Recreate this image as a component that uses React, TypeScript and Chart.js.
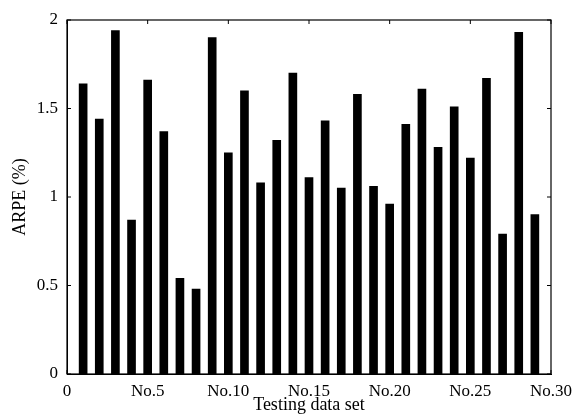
import React, { useEffect, useRef } from "react";
import { Chart, registerables } from "chart.js";

Chart.register(...registerables);

const dataSetNumbers = [1, 2, 3, 4, 5, 6, 7, 8, 9, 10, 11, 12, 13, 14, 15, 16, 17, 18, 19, 20, 21, 22, 23, 24, 25, 26, 27, 28, 29];
const arpeValues = [1.64, 1.44, 1.94, 0.87, 1.66, 1.37, 0.54, 0.48, 1.9, 1.25, 1.6, 1.08, 1.32, 1.7, 1.11, 1.43, 1.05, 1.58, 1.06, 0.96, 1.41, 1.61, 1.28, 1.51, 1.22, 1.67, 0.79, 1.93, 0.9];
const xTickValues = [0, 5, 10, 15, 20, 25, 30];
const xTickLabels = ["0", "No.5", "No.10", "No.15", "No.20", "No.25", "No.30"];
const yTickValues = [0, 0.5, 1, 1.5, 2];
const yTickLabels = ["0", "0.5", "1", "1.5", "2"];

const FONT = "'Liberation Serif', 'Times New Roman', serif";

const framePlugin = {
  id: "frame",
  afterDraw(chart: any) {
    const { ctx, chartArea } = chart;
    const xs = chart.scales.x;
    const ys = chart.scales.y;
    ctx.save();
    ctx.strokeStyle = "#000";
    ctx.lineWidth = 1.2;
    ctx.strokeRect(chartArea.left, chartArea.top, chartArea.right - chartArea.left, chartArea.bottom - chartArea.top);
    ctx.lineWidth = 1;
    const len = 4;
    ctx.beginPath();
    yTickValues.forEach((v) => {
      const py = ys.getPixelForValue(v);
      ctx.moveTo(chartArea.left, py);
      ctx.lineTo(chartArea.left + len, py);
      ctx.moveTo(chartArea.right, py);
      ctx.lineTo(chartArea.right - len, py);
    });
    xTickValues.forEach((v) => {
      const px = xs.getPixelForValue(v);
      ctx.moveTo(px, chartArea.bottom);
      ctx.lineTo(px, chartArea.bottom - len);
      ctx.moveTo(px, chartArea.top);
      ctx.lineTo(px, chartArea.top + len);
    });
    ctx.stroke();
    ctx.restore();
  },
};

export default function App() {
  const ref = useRef<HTMLCanvasElement | null>(null);
  useEffect(() => {
    if (!ref.current) return;
    const chart = new Chart(ref.current, {
      type: "bar",
      data: {
        datasets: [
          {
            label: "ARPE",
            data: dataSetNumbers.map((n, i) => ({ x: n, y: arpeValues[i] })),
            backgroundColor: "#000",
            borderWidth: 0,
            barThickness: 8,
          },
        ],
      },
      options: {
        responsive: false,
        animation: false,
        layout: { padding: { top: 20, right: 21, left: 0, bottom: 0 } },
        plugins: { legend: { display: false }, tooltip: { enabled: false } },
        scales: {
          x: {
            type: "linear",
            min: 0,
            max: 30,
            offset: false,
            afterBuildTicks: (scale: any) => {
              scale.ticks = xTickValues.map((v) => ({ value: v }));
            },
            afterFit: (scale: any) => {
              scale.height = 45;
              scale.paddingLeft = 0;
              scale.paddingRight = 0;
            },
            grid: { display: false, drawTicks: false, offset: false },
            border: { display: true, color: "#000", width: 1 },
            ticks: {
              padding: 7,
              color: "#000",
              font: { family: FONT, size: 17 },
              maxRotation: 0,
              autoSkip: false,
              callback: (v: any) => {
                const idx = xTickValues.indexOf(Number(v));
                return idx >= 0 ? xTickLabels[idx] : "";
              },
            },
            title: {
              display: true,
              text: "Testing data set",
              color: "#000",
              font: { family: FONT, size: 18 },
              padding: { top: 0, bottom: 3 },
            },
          },
          y: {
            type: "linear",
            min: 0,
            max: 2,
            afterBuildTicks: (scale: any) => {
              scale.ticks = yTickValues.map((v) => ({ value: v }));
            },
            afterFit: (scale: any) => {
              scale.width = 67;
              scale.paddingTop = 0;
              scale.paddingBottom = 0;
            },
            grid: { display: false, drawTicks: false },
            border: { display: true, color: "#000", width: 1 },
            ticks: {
              padding: 9,
              color: "#000",
              font: { family: FONT, size: 17 },
              callback: (v: any) => {
                const idx = yTickValues.indexOf(Number(v));
                return idx >= 0 ? yTickLabels[idx] : "";
              },
            },
            title: {
              display: true,
              text: "ARPE (%)",
              color: "#000",
              font: { family: FONT, size: 18 },
              padding: { top: 9, bottom: 0 },
            },
          },
        },
      },
      plugins: [framePlugin],
    });
    return () => chart.destroy();
  }, []);
  return (
    <div style={{ position: "fixed", left: 0, top: 0, width: 572, height: 419, background: "#fff" }}>
      <canvas ref={ref} width={572} height={419} style={{ display: "block" }} />
    </div>
  );
}
